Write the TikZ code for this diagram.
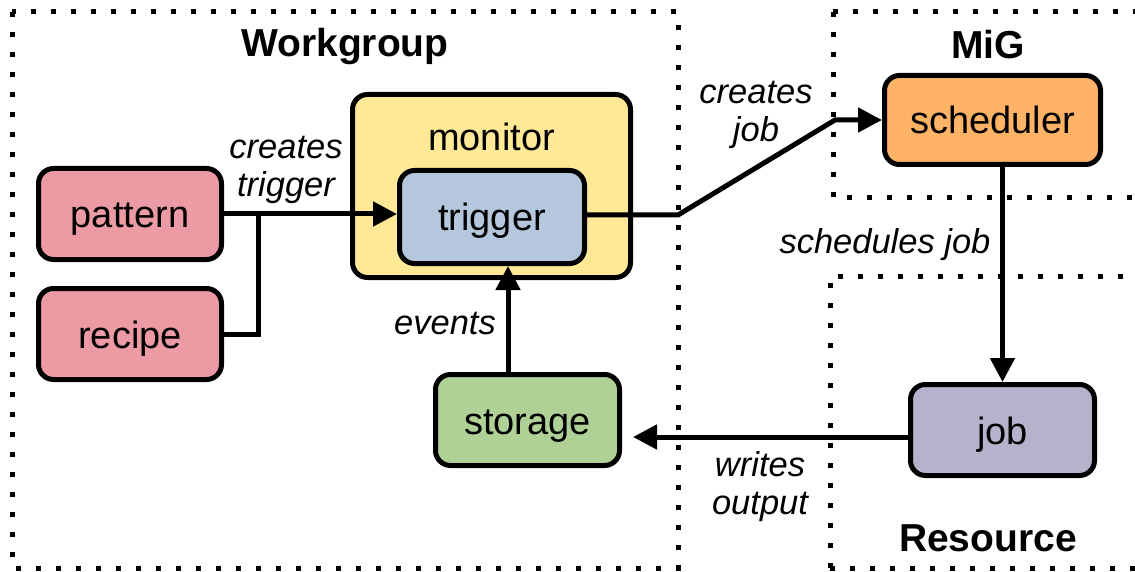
\documentclass[tikz,border=0pt]{standalone}
\usepackage{fontspec}
\setmainfont{Liberation Sans}
\usetikzlibrary{arrows.meta,calc}
\definecolor{pinkfill}{HTML}{EC9BA4}
\definecolor{yellowfill}{HTML}{FFE896}
\definecolor{bluefill}{HTML}{B4C7DC}
\definecolor{greenfill}{HTML}{B0D196}
\definecolor{orangefill}{HTML}{FFB366}
\definecolor{purplefill}{HTML}{B7B2CC}
\tikzset{
  box/.style={draw=black, line width=5pt, rounded corners=15pt, inner sep=0pt,
    font=\fontsize{38}{46}\selectfont, text height=30pt, text depth=2pt},
  region/.style={line width=5pt, dash pattern=on 5pt off 15pt},
  regiontitle/.style={font=\fontsize{39}{46}\selectfont\bfseries},
  edgelabel/.style={font=\fontsize{34.5}{38}\selectfont\itshape, align=center, inner sep=0pt},
  conn/.style={line width=5pt},
  arr/.style={conn, -{Triangle[length=24pt,width=24pt]}},
}
\begin{document}
\begin{tikzpicture}[x=1pt,y=-1pt]
\useasboundingbox (0,0) rectangle (1135,572);
\fill[white] (0,0) rectangle (1135,572);

% grouping regions
\draw[region] (12,12) rectangle (678,568);
\draw[region] (833,12) -- (833,198) -- (1160,198);
\draw[region] (833,12) -- (1160,12);
\draw[region] (830,568) -- (830,276) -- (1160,276);
\draw[region] (830,568) -- (1160,568);

\node[regiontitle] (wgtitle) at (345,47) {Workgroup};
\node[regiontitle] (migtitle) at (988,45) {MiG};
\node[regiontitle] (restitle) at (988,538) {Resource};

% components
\node[box, fill=yellowfill, minimum width=278pt, minimum height=183pt] (monitor) at (491.5,186) {};
\node[font=\fontsize{38}{46}\selectfont] (monitorlabel) at (491.5,137) {monitor};
\node[box, fill=bluefill, minimum width=185pt, minimum height=93pt] (trigger) at (492,217) {trigger};
\node[box, fill=pinkfill, minimum width=183pt, minimum height=91pt] (pattern) at (130,214) {pattern};
\node[box, fill=pinkfill, minimum width=183pt, minimum height=91pt] (recipe) at (130,334) {recipe};
\node[box, fill=greenfill, minimum width=184pt, minimum height=91pt] (storage) at (527.5,420) {storage};
\node[box, fill=orangefill, minimum width=216pt, minimum height=89pt] (scheduler) at (992.5,120) {scheduler};
\node[box, fill=purplefill, minimum width=184pt, minimum height=91pt] (job) at (1002.5,430) {job};

% routing points
\coordinate (join) at (258,214);
\coordinate (bendA) at (678,215);
\coordinate (bendB) at (835,120);
\coordinate (outtip) at (633,437);

% connectors
\draw[arr] (pattern.east) -- (pattern.east -| trigger.west);
\draw[conn] (recipe.east) -| (join);
\draw[arr] (trigger.east |- bendA) -- (bendA) -- (bendB) -- (scheduler.west);
\draw[arr] (scheduler.south -| job.north) -- (job.north);
\draw[arr] (job.west |- outtip) -- (outtip);
\draw[arr] ([xshift=-19.5pt]storage.north) -- ([xshift=-19.5pt]storage.north |- trigger.south);

% connector labels
\node[edgelabel] (lblcreatestrigger) at (286,170) {creates\\trigger};
\node[edgelabel] (lblcreatesjob) at (756,115) {creates\\job};
\node[edgelabel] (lblevents) at (445,324) {events};
\node[edgelabel] (lblschedules) at (885,245) {schedules job};
\node[edgelabel] (lblwrites) at (760,487) {writes\\output};
\end{tikzpicture}
\end{document}
